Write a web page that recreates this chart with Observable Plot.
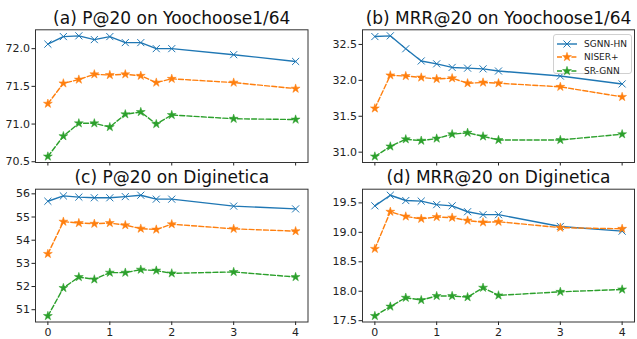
<!DOCTYPE html>
<html><head>
<meta charset="utf-8">
<script src="https://cdn.jsdelivr.net/npm/d3@7"></script>
<script src="https://cdn.jsdelivr.net/npm/@observablehq/plot@0.6"></script>
<style>
body{margin:0;background:#fff;}
#root{position:relative;width:637px;height:339px;overflow:hidden;font-family:"DejaVu Sans",sans-serif;}
.panel{position:absolute;}
#legend{position:absolute;box-sizing:border-box;border:1px solid #d0d0d0;border-radius:3px;background:rgba(255,255,255,0.85);font-size:9px;color:#222;padding:2px 0 0 2px;}
#legend .row{display:flex;align-items:center;height:13.6px;}
#legend svg{margin-right:6px;}
</style>
</head><body><div id="root"></div>
<script>
const xValues = [0, 0.25, 0.5, 0.75, 1, 1.25, 1.5, 1.75, 2, 3, 4];
const xTicks = [0, 1, 2, 3, 4];
const methods = ["SGNN-HN", "NISER+", "SR-GNN"];
const colors = ["#1f77b4", "#ff7f0e", "#2ca02c"];
const symbols = ["times", "star", "star"];
const dashes = [null, "5,2.2", "5,2.2"];
const titles = ["(a) P@20 on Yoochoose1/64", "(b) MRR@20 on Yoochoose1/64", "(c) P@20 on Diginetica", "(d) MRR@20 on Diginetica"];

const aSGNN  = [72.06, 72.16, 72.17, 72.12, 72.16, 72.08, 72.08, 72.00, 72.00, 71.92, 71.83];
const aNISER = [71.27, 71.54, 71.59, 71.66, 71.65, 71.66, 71.64, 71.55, 71.60, 71.55, 71.47];
const aSRGNN = [70.57, 70.84, 71.01, 71.01, 70.96, 71.13, 71.16, 71.00, 71.12, 71.07, 71.06];
const bSGNN  = [32.61, 32.62, 32.44, 32.27, 32.23, 32.18, 32.17, 32.16, 32.13, 32.06, 31.95];
const bNISER = [31.61, 32.07, 32.06, 32.04, 32.02, 32.03, 31.96, 31.97, 31.96, 31.91, 31.77];
const bSRGNN = [30.94, 31.08, 31.18, 31.16, 31.19, 31.25, 31.27, 31.22, 31.17, 31.17, 31.25];
const cSGNN  = [55.68, 55.91, 55.86, 55.83, 55.83, 55.88, 55.94, 55.77, 55.77, 55.47, 55.35];
const cNISER = [53.41, 54.80, 54.74, 54.71, 54.74, 54.65, 54.50, 54.46, 54.69, 54.49, 54.39];
const cSRGNN = [50.73, 51.94, 52.41, 52.31, 52.60, 52.60, 52.73, 52.69, 52.57, 52.63, 52.41];
const dSGNN  = [19.45, 19.63, 19.54, 19.53, 19.47, 19.45, 19.35, 19.30, 19.30, 19.10, 19.02];
const dNISER = [18.72, 19.35, 19.27, 19.23, 19.26, 19.25, 19.20, 19.17, 19.18, 19.08, 19.06];
const dSRGNN = [17.58, 17.74, 17.89, 17.85, 17.92, 17.92, 17.90, 18.06, 17.93, 17.99, 18.03];

const aTicks = [70.5, 71.0, 71.5, 72.0];
const bTicks = [31.0, 31.5, 32.0, 32.5];
const cTicks = [51, 52, 53, 54, 55, 56];
const dTicks = [17.5, 18.0, 18.5, 19.0, 19.5];

const panels = [
  {series: [aSGNN, aNISER, aSRGNN], ticks: aTicks, fmt: ".1f", domain: [70.49, 72.25], left: 0, top: 0, w: 320, h: 175, ml: 35, mr: 12.5, mt: 29.3, mb: 13, xlabels: false},
  {series: [bSGNN, bNISER, bSRGNN], ticks: bTicks, fmt: ".1f", domain: [30.856, 32.704], left: 320, top: 0, w: 317, h: 175, ml: 42, mr: 3, mt: 29.3, mb: 13, xlabels: false},
  {series: [cSGNN, cNISER, cSRGNN], ticks: cTicks, fmt: "d", domain: [50.47, 56.2], left: 0, top: 170, w: 320, h: 169, ml: 35, mr: 12.5, mt: 18.7, mb: 17.5, xlabels: true},
  {series: [dSGNN, dNISER, dSRGNN], ticks: dTicks, fmt: ".1f", domain: [17.4775, 19.7325], left: 320, top: 170, w: 317, h: 169, ml: 42, mr: 3, mt: 18.7, mb: 17.5, xlabels: true}
];

const root = document.getElementById("root");

panels.forEach((p, pi) => {
  const marks = [];
  p.series.forEach((vals, si) => {
    const rows = xValues.map((x, i) => ({x, y: vals[i]}));
    marks.push(Plot.line(rows, {x: "x", y: "y", stroke: colors[si], strokeWidth: 1.4, strokeDasharray: dashes[si]}));
    if (symbols[si] === "times") {
      marks.push(Plot.dot(rows, {x: "x", y: "y", symbol: "times", r: 3.3, stroke: colors[si], strokeWidth: 1}));
    } else {
      marks.push(Plot.dot(rows, {x: "x", y: "y", symbol: "star", r: 2.8, fill: colors[si], stroke: colors[si], strokeWidth: 0.5}));
    }
  });
  const chart = Plot.plot({
    width: p.w, height: p.h,
    marginLeft: p.ml, marginRight: p.mr, marginTop: p.mt, marginBottom: p.mb,
    style: {fontFamily: "DejaVu Sans", fontSize: "11px", overflow: "visible", background: "transparent", color: "#222"},
    x: {domain: [-0.2, 4.2]},
    y: {domain: p.domain},
    marks: [
      Plot.axisY({ticks: p.ticks, tickFormat: d3.format(p.fmt), tickSize: 3.5, tickPadding: 2, fontSize: 11, label: null}),
      Plot.axisX({ticks: xTicks, tickFormat: p.xlabels ? d3.format("d") : () => "", tickSize: 3.5, tickPadding: 3, fontSize: 11, label: null}),
      ...marks,
      Plot.frame({stroke: "#333", strokeWidth: 1}),
      Plot.text([titles[pi]], {frameAnchor: "top", lineAnchor: "bottom", dy: -6, fontSize: 17, fill: "#111"})
    ]
  });
  chart.classList.add("panel");
  chart.style.left = p.left + "px";
  chart.style.top = p.top + "px";
  chart.style.position = "absolute";
  root.appendChild(chart);
});

// legend in panel (b)
const legend = d3.select(root).append("div").attr("id", "legend")
  .style("left", "553px").style("top", "34px").style("width", "79px").style("height", "40px");
methods.forEach((m, i) => {
  const row = legend.append("div").attr("class", "row");
  const s = row.append("svg").attr("width", 22).attr("height", 10);
  s.append("line").attr("x1", 1).attr("x2", 21).attr("y1", 5).attr("y2", 5)
    .attr("stroke", colors[i]).attr("stroke-width", 1.4).attr("stroke-dasharray", dashes[i]);
  const sym = symbols[i] === "times" ? d3.symbolTimes : d3.symbolStar;
  const size = symbols[i] === "times" ? 3.3 * 3.3 * Math.PI : 2.8 * 2.8 * Math.PI;
  s.append("path").attr("transform", "translate(11,5)").attr("d", d3.symbol(sym, size)())
    .attr("fill", symbols[i] === "times" ? "none" : colors[i]).attr("stroke", colors[i]).attr("stroke-width", symbols[i] === "times" ? 1 : 0.5);
  row.append("span").text(m);
});
</script>
</body></html>
